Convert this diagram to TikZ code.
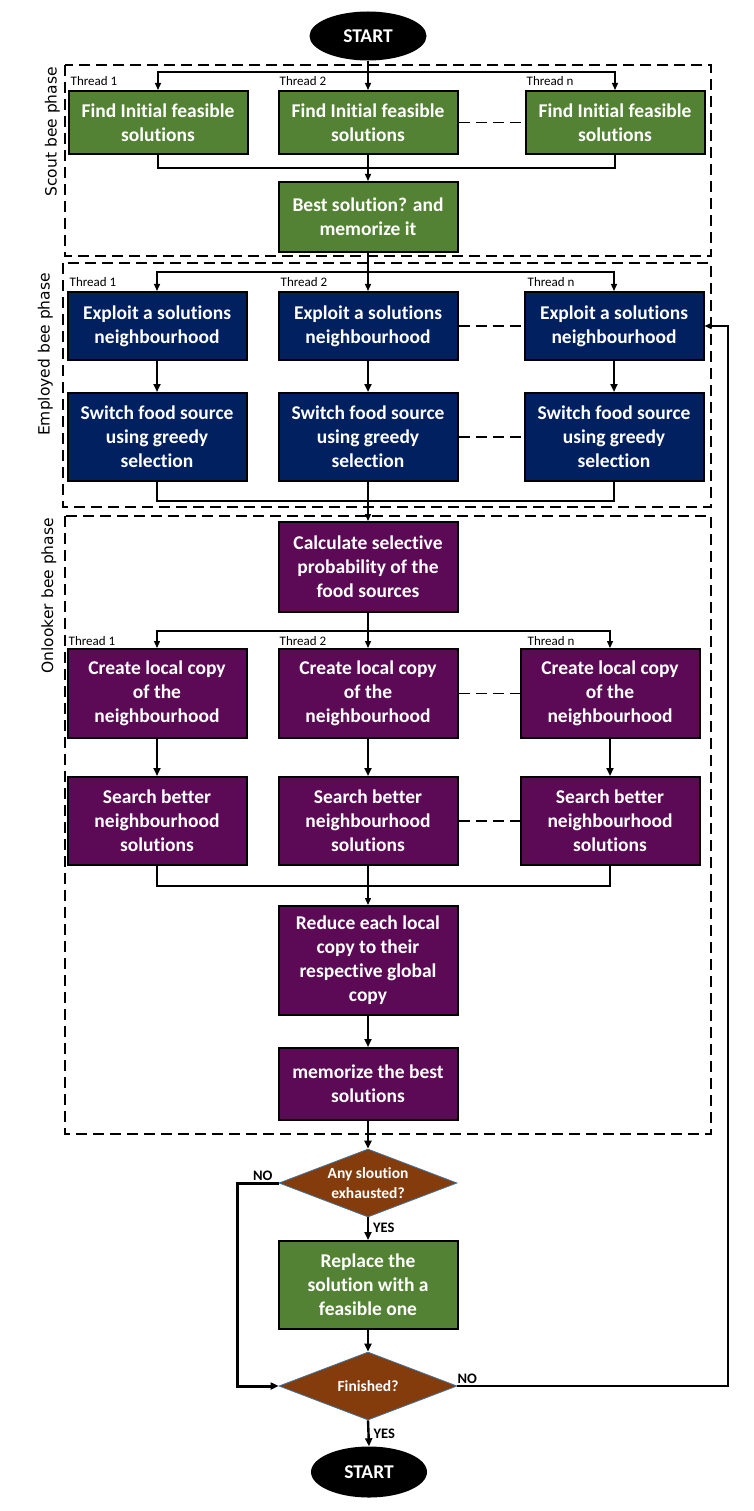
\documentclass[tikz,border=0pt]{standalone}
\usepackage{fontspec}
\setmainfont{Carlito}[Ligatures=NoCommon]
\newfontfamily\phasefont{DejaVu Sans}
\usetikzlibrary{shapes.geometric,arrows.meta}
\definecolor{bgreen}{HTML}{548235}
\definecolor{bnavy}{HTML}{002060}
\definecolor{bpurple}{HTML}{5C0A55}
\definecolor{bbrown}{HTML}{843C0C}
\definecolor{dborder}{HTML}{41719C}
\begin{document}
\begin{tikzpicture}[x=1pt,y=-1pt,
  box/.style={draw=black, line width=2pt, minimum width=179pt, inner sep=0pt, align=center, text=white, font=\fontsize{19.5}{24}\selectfont\bfseries},
  gbox/.style={box, fill=bgreen},
  nbox/.style={box, fill=bnavy},
  pbox/.style={box, fill=bpurple},
  term/.style={ellipse, fill=black, text=white, minimum width=117pt, minimum height=49pt, inner sep=0pt, font=\fontsize{19.5}{24}\selectfont\bfseries},
  dec/.style={diamond, fill=bbrown, draw=dborder, line width=0.8pt, aspect=2.58, minimum width=178pt, minimum height=68pt, inner sep=0pt, align=center, text=white, font=\fontsize{15.5}{19.5}\selectfont\bfseries},
  link/.style={line width=1.3pt},
  arr/.style={line width=1.3pt, -{Triangle[length=7pt,width=6pt]}},
  tarr/.style={line width=2.4pt, -{Triangle[length=8pt,width=7pt]}},
  dlink/.style={line width=1.8pt, dash pattern=on 11pt off 6pt},
  zone/.style={draw, line width=1.8pt, dash pattern=on 11pt off 6pt},
  thr/.style={font=\fontsize{13}{15}\selectfont, anchor=base west, inner sep=0pt},
  phase/.style={font=\phasefont\fontsize{15.5}{18}\selectfont, rotate=90, anchor=base east, inner sep=0pt},
  yn/.style={font=\fontsize{14.5}{16}\selectfont\bfseries, inner sep=0pt}
]
\useasboundingbox (0,0) rectangle (754,1511);

% phase zones
\draw[zone] (65,65) rectangle (711,256);
\draw[zone] (63,263) rectangle (711,507);
\draw[zone] (65,516) rectangle (711,1134);
\node[phase] (ps) at (56.5,67) {Scout bee phase};
\node[phase] (pe) at (49.5,273) {Employed bee phase};
\node[phase] (po) at (53,518) {Onlooker bee phase};

% start
\node[term] (start) at (368,36) {START};

% scout
\node[gbox, minimum height=63pt] (s1) at (158,122.5) {Find Initial feasible\\solutions};
\node[gbox, minimum height=63pt] (s2) at (368,122.5) {Find Initial feasible\\solutions};
\node[gbox, minimum height=63pt] (s3) at (615,122.5) {Find Initial feasible\\solutions};
\node[gbox, minimum height=70pt] (best) at (368,217) {Best solution? and\\memorize it};
\node[thr] (ts1) at ([xshift=3pt,yshift=4pt]s1.north west) {Thread 1};
\node[thr] (ts2) at ([xshift=2pt,yshift=4pt]s2.north west) {Thread 2};
\node[thr] (ts3) at ([xshift=2pt,yshift=4pt]s3.north west) {Thread n};

% employed
\node[nbox, minimum height=68pt] (e1) at (157,326) {Exploit a solutions\\neighbourhood};
\node[nbox, minimum height=68pt] (e2) at (368,326) {Exploit a solutions\\neighbourhood};
\node[nbox, minimum height=68pt] (e3) at (614,326) {Exploit a solutions\\neighbourhood};
\node[nbox, minimum height=88pt] (w1) at (157,437) {Switch food source\\using greedy\\selection};
\node[nbox, minimum height=88pt] (w2) at (368,437) {Switch food source\\using greedy\\selection};
\node[nbox, minimum height=88pt] (w3) at (614,437) {Switch food source\\using greedy\\selection};
\node[thr] (te1) at ([xshift=3pt,yshift=4pt]e1.north west) {Thread 1};
\node[thr] (te2) at ([xshift=3pt,yshift=4pt]e2.north west) {Thread 2};
\node[thr] (te3) at ([xshift=4pt,yshift=4pt]e3.north west) {Thread n};

% onlooker
\node[pbox, minimum height=90pt] (calc) at (368,567) {Calculate selective\\probability of the\\food sources};
\node[pbox, minimum height=89pt] (c1) at (157,693.5) {Create local copy\\of the\\neighbourhood};
\node[pbox, minimum height=89pt] (c2) at (368,693.5) {Create local copy\\of the\\neighbourhood};
\node[pbox, minimum height=89pt] (c3) at (610,693.5) {Create local copy\\of the\\neighbourhood};
\node[pbox, minimum height=88pt] (r1) at (157,821) {Search better\\neighbourhood\\solutions};
\node[pbox, minimum height=88pt] (r2) at (368,821) {Search better\\neighbourhood\\solutions};
\node[pbox, minimum height=88pt] (r3) at (610,821) {Search better\\neighbourhood\\solutions};
\node[pbox, minimum height=109pt] (red) at (368,960.5) {Reduce each local\\copy to their\\respective global\\copy};
\node[pbox, minimum height=72pt] (mem) at (368,1084) {memorize the best\\solutions};
\node[thr] (to1) at ([xshift=2pt,yshift=3pt]c1.north west) {Thread 1};
\node[thr] (to2) at ([xshift=2pt,yshift=3pt]c2.north west) {Thread 2};
\node[thr] (to3) at ([xshift=8pt,yshift=3pt]c3.north west) {Thread n};

% decisions
\node[dec] (d1) at (368,1183) {Any sloution\\exhausted?};
\node[gbox, minimum height=88pt] (rep) at (368,1285) {Replace the\\solution with a\\feasible one};
\node[dec] (d2) at (368,1386) {Finished?};
\node[term, minimum width=116pt, minimum height=51pt] (end) at (369,1472) {START};

% coordinates
\coordinate (sb) at (368,72);
\coordinate (sm) at (368,168);
\coordinate (eb) at (368,272);
\coordinate (em) at (368,501);
\coordinate (ob) at (368,631);
\coordinate (om) at (368,886);
\coordinate (nl) at (237,1183);
\coordinate (nr) at (728,1386);

% scout connectors
\draw[arr] (start.south) -- (s2.north);
\draw[arr] (sb) -| (s1.north);
\draw[arr] (sb) -| (s3.north);
\draw[link] (s1.south) |- (sm);
\draw[link] (s3.south) |- (sm);
\draw[arr] (s2.south) -- (best.north);
\draw[dlink] (s2.east) -- (s3.west);

% employed connectors
\draw[arr] (best.south) -- (e2.north);
\draw[arr] (eb) -| (e1.north);
\draw[arr] (eb) -| (e3.north);
\draw[tarr] (e1) -- (w1);
\draw[tarr] (e2) -- (w2);
\draw[tarr] (e3) -- (w3);
\draw[dlink] (e2.east) -- (e3.west);
\draw[dlink] (w2.east) -- (w3.west);
\draw[link] (w1.south) |- (em);
\draw[link] (w3.south) |- (em);
\draw[arr] (w2.south) -- (calc.north);

% onlooker connectors
\draw[arr] (calc.south) -- (c2.north);
\draw[arr] (ob) -| (c1.north);
\draw[arr] (ob) -| (c3.north);
\draw[tarr] (c1) -- (r1);
\draw[tarr] (c2) -- (r2);
\draw[tarr] (c3) -- (r3);
\draw[dlink] (c2.east) -- (c3.west);
\draw[dlink] (r2.east) -- (r3.west);
\draw[link] (r1.south) |- (om);
\draw[link] (r3.south) |- (om);
\draw[arr] (r2.south) -- (red.north);
\draw[tarr] (red) -- (mem);
\draw[tarr] (mem) -- (d1);

% decision connectors
\draw[tarr] (d1.south) -- (rep.north) node[yn, pos=0.45, anchor=west, xshift=4pt] (yes1) {YES};
\draw[line width=3pt, -{Triangle[length=8pt,width=7pt]}] (d1.west) -- (nl) |- (d2.west);
\node[yn, anchor=south east] (no1) at ([xshift=-6pt,yshift=2pt]d1.west) {NO};
\draw[tarr] (rep) -- (d2);
\draw[arr, line width=1.6pt] (d2.east) -- (nr) |- (e3.east);
\node[yn, anchor=south west] (no2) at ([xshift=0pt,yshift=2pt]d2.east) {NO};
\draw[tarr] (d2.south) -- (end.north) node[yn, pos=0.5, anchor=west, xshift=4pt] (yes2) {YES};
\end{tikzpicture}
\end{document}
